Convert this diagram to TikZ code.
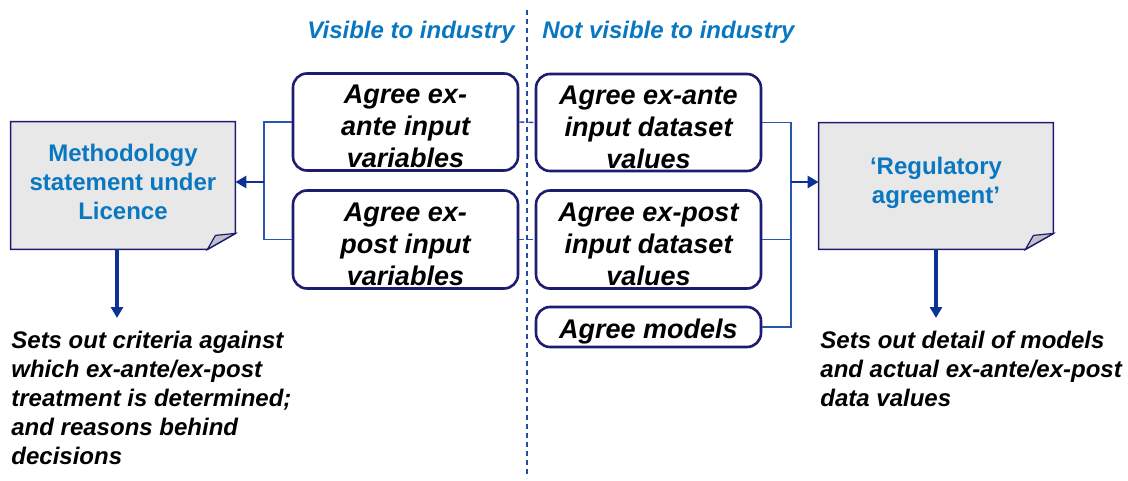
\documentclass[tikz,border=0pt]{standalone}
\usepackage{fontspec}
\setmainfont{Liberation Sans}
\usetikzlibrary{arrows.meta,backgrounds}
\definecolor{navy}{RGB}{28,28,112}
\definecolor{linkblue}{RGB}{40,85,175}
\definecolor{arrowblue}{RGB}{12,50,150}
\definecolor{titleblue}{RGB}{10,120,192}
\definecolor{docgray}{RGB}{232,232,232}
\definecolor{foldgray}{RGB}{192,192,198}
\tikzset{
  agree/.style={draw=navy, line width=1.3pt, rounded corners=7pt, align=center,
    minimum width=112.5pt, inner sep=0pt, text height=46pt,
    font=\fontsize{13.5}{16}\selectfont\bfseries\itshape},
  docbox/.style={align=center, inner sep=0pt, text=titleblue,
    font=\fontsize{12}{14.5}\selectfont\bfseries},
  note/.style={align=left, inner sep=0pt, anchor=north west,
    font=\fontsize{12}{14.5}\selectfont\bfseries\itshape},
  side/.style={text=titleblue, inner sep=0pt,
    font=\fontsize{12}{14.5}\selectfont\bfseries\itshape},
  link/.style={draw=linkblue, line width=0.7pt},
  arr/.style={draw=arrowblue, line width=1.4pt, -{Triangle[length=5.5pt,width=6pt]}},
}
\begin{document}
\begin{tikzpicture}[x=0.5pt, y=-0.5pt]
  \useasboundingbox (0,0) rectangle (1128,481);
  % titoli
  \node[side, anchor=east] (vis) at (515,32) {Visible to industry};
  \node[side, anchor=west] (notvis) at (542,32) {Not visible to industry};
  \draw[linkblue!80!navy, line width=1pt, dash pattern=on 2.5pt off 2pt] (527,10) -- (527,478);
  % riquadri
  \node[agree, minimum height=48.5pt] (exante) at (405.5,122) {Agree ex-\\ante input\\variables};
  \node[agree, minimum height=49pt] (expost) at (405.5,239.5) {Agree ex-\\post input\\variables};
  \node[agree, minimum height=48.5pt] (anteval) at (648.5,122.5) {Agree ex-ante\\input dataset\\values};
  \node[agree, minimum height=49pt] (postval) at (648.5,239.5) {Agree ex-post\\input dataset\\values};
  \node[agree, minimum height=20pt, text height=14pt] (models) at (648.5,327) {Agree models};
  % documenti
  \node[docbox, minimum width=112pt, minimum height=63.5pt] (meth) at (123,185.5) {Methodology\\statement under\\Licence\rule[-4pt]{0pt}{0pt}};
  \node[docbox, minimum width=117pt, minimum height=63pt] (reg) at (936,186) {‘Regulatory\\agreement’\rule[-6pt]{0pt}{0pt}};
  \begin{scope}[on background layer]
    \foreach \d in {meth,reg} {
      \draw[draw=navy, fill=docgray, line width=0.8pt] (\d.north west) -- (\d.north east)
        -- ([yshift=8pt]\d.south east) -- ([xshift=-14pt]\d.south east) -- (\d.south west) -- cycle;
      \draw[draw=navy, fill=foldgray, line width=0.6pt] ([yshift=8pt]\d.south east)
        -- ([xshift=-14pt]\d.south east) -- ([xshift=-10pt,yshift=7pt]\d.south east) -- cycle;
    }
  \end{scope}
  % note
  \node[note] (crit) at (11,331) {Sets out criteria against\\which ex-ante/ex-post\\treatment is determined;\\and reasons behind\\decisions};
  \node[note] (detail) at (820,331) {Sets out detail of models\\and actual ex-ante/ex-post\\data values};
  % connessioni
  \coordinate (ljoin) at (264,182);
  \coordinate (rjoin) at (791,182);
  \draw[link] (exante.west) -| (ljoin) |- (expost.west);
  \draw[arr] (ljoin) -- (meth.east |- ljoin);
  \draw[link] (anteval.east) -| (rjoin);
  \draw[link] (postval.east) -| (rjoin);
  \draw[link] (models.east) -| (rjoin);
  \draw[arr] (rjoin) -- (reg.west |- rjoin);
  \draw[link, dash pattern=on 2.5pt off 2pt] (exante.east) -- (anteval.west);
  \draw[link, dash pattern=on 2.5pt off 2pt] (expost.east) -- (postval.west);
  \draw[arr, line width=1.6pt] ([xshift=-3pt]meth.south) -- ([xshift=-3pt,yshift=6.5pt]meth.south |- crit.north);
  \draw[arr, line width=1.6pt] (reg.south) -- ([yshift=6.5pt]reg.south |- detail.north);
\end{tikzpicture}
\end{document}
